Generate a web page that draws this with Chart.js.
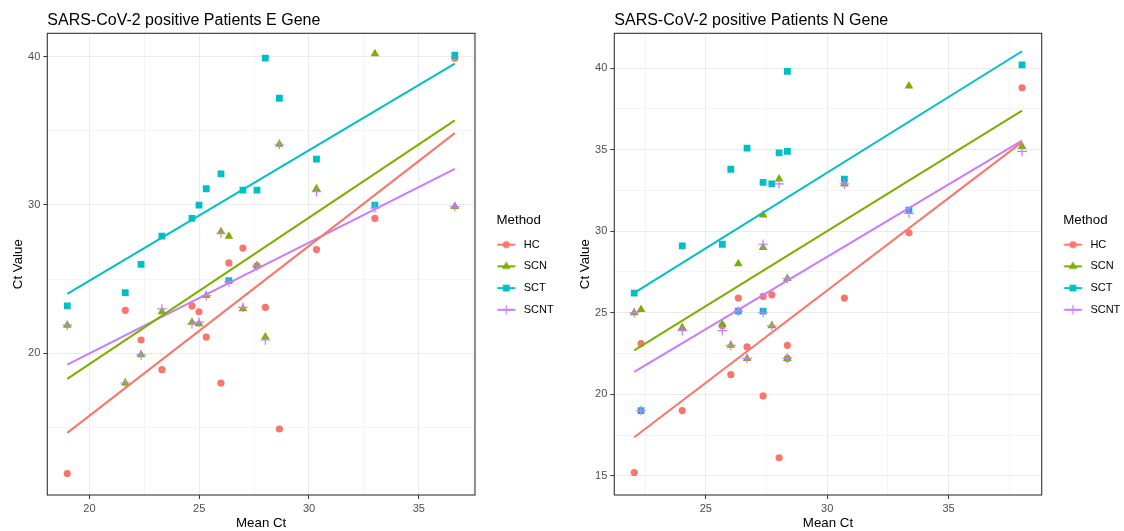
<!DOCTYPE html>
<html>
<head>
<meta charset="utf-8">
<script src="https://cdn.jsdelivr.net/npm/chart.js@4.4.1/dist/chart.umd.min.js"></script>
<style>
  html, body { margin: 0; padding: 0; background: #fff; }
  #wrap { position: relative; width: 1124px; height: 531px; }
  .panel { position: absolute; top: 0; width: 562px; height: 531px; }
</style>
</head>
<body>
<div id="wrap">
  <div class="panel" style="left:0"><canvas id="eGene" width="562" height="531"></canvas></div>
  <div class="panel" style="left:562px"><canvas id="nGene" width="562" height="531"></canvas></div>
</div>
<script>
// methods and ggplot default hues
const methods = ["HC", "SCN", "SCT", "SCNT"];
const colors = ["#F8766D", "#7CAE00", "#00BFC4", "#C77CFF"];

// E gene panel
const eMeanCt = [18.99, 21.63, 22.35, 23.30, 24.67, 24.99, 25.32, 25.99, 26.35, 26.99, 27.63, 28.01, 28.65, 30.34, 33.00, 36.64];
const eHC   = [11.9, 22.9, 20.9, 18.9, 23.2, 22.8, 21.1, 18.0, 26.1, 27.1, 25.9, 23.1, 14.9, 27.0, 29.1, 39.9];
const eSCN  = [21.9, 18.0, 19.9, 22.8, 22.1, 22.0, 23.9, 28.2, 27.9, 23.0, 25.9, 21.1, 34.1, 31.1, 40.2, 29.9];
const eSCT  = [23.2, 24.1, 26.0, 27.9, 29.1, 30.0, 31.1, 32.1, 24.9, 31.0, 31.0, 39.9, 37.2, 33.1, 30.0, 40.1];
const eSCNT = [21.9, 18.0, 19.9, 23.0, 22.0, 22.1, 23.9, 28.1, 24.8, 23.1, 25.9, 20.9, 34.1, 30.9, 29.8, 29.9];

// N gene panel
const nMeanCt = [22.05, 22.33, 24.03, 25.68, 26.03, 26.34, 26.70, 27.36, 27.36, 27.72, 28.02, 28.36, 28.36, 30.71, 33.37, 38.03];
const nHC   = [15.2, 23.1, 19.0, 24.2, 21.2, 25.9, 22.9, 26.0, 19.9, 26.1, 16.1, 23.0, 22.2, 25.9, 29.9, 38.8];
const nSCN  = [25.0, 25.2, 24.1, 24.3, 23.0, 28.0, 22.2, 31.0, 29.0, 24.2, 33.2, 27.1, 22.2, 32.9, 38.9, 35.2];
const nSCT  = [26.2, 19.0, 29.1, 29.2, 33.8, 25.1, 35.1, 33.0, 25.1, 32.9, 34.8, 39.8, 34.9, 33.2, 31.3, 40.2];
const nSCNT = [25.0, 19.0, 23.9, 23.9, 23.0, 25.1, 22.2, 29.2, 25.0, 24.2, 32.9, 27.1, 22.2, 32.9, 31.1, 34.9];

Chart.defaults.font.family = "'Liberation Sans', Arial, sans-serif";
Chart.defaults.animation = false;

const shapes = ["circle", "triangle", "rect", "cross"];
const radii = [3.6, 5.0, 4.8, 4.8];

// least squares line over the x range (like geom_smooth(method = lm))
function fitLine(xs, ys) {
  const n = xs.length;
  const mx = xs.reduce((a, b) => a + b, 0) / n;
  const my = ys.reduce((a, b) => a + b, 0) / n;
  let sxy = 0, sxx = 0;
  for (let i = 0; i < n; i++) {
    sxy += (xs[i] - mx) * (ys[i] - my);
    sxx += (xs[i] - mx) * (xs[i] - mx);
  }
  const b = sxy / sxx, a = my - b * mx;
  const x0 = Math.min(...xs), x1 = Math.max(...xs);
  return [{ x: x0, y: a + b * x0 }, { x: x1, y: a + b * x1 }];
}

// legend key: line with the marker in the middle
function keyImage(i) {
  const c = document.createElement("canvas");
  c.width = 40; c.height = 14;
  const g = c.getContext("2d");
  const cx = 13.5, cy = 7;
  g.strokeStyle = colors[i];
  g.fillStyle = colors[i];
  g.lineWidth = 2;
  g.beginPath(); g.moveTo(4.5, cy); g.lineTo(22.5, cy); g.stroke();
  g.beginPath();
  if (i === 0) {
    g.arc(cx, cy, 3.6, 0, Math.PI * 2); g.fill();
  } else if (i === 1) {
    const r = 5.0;
    g.moveTo(cx, cy - r);
    g.lineTo(cx + r * Math.sin(2.0944), cy - r * Math.cos(2.0944));
    g.lineTo(cx + r * Math.sin(4.1888), cy - r * Math.cos(4.1888));
    g.closePath(); g.fill();
  } else if (i === 2) {
    g.fillRect(cx - 3.4, cy - 3.4, 6.8, 6.8);
  } else {
    g.lineWidth = 1.2;
    g.moveTo(cx - 4.8, cy); g.lineTo(cx + 4.8, cy);
    g.moveTo(cx, cy - 4.8); g.lineTo(cx, cy + 4.8);
    g.stroke();
  }
  return c;
}
const keys = methods.map((m, i) => keyImage(i));

const panelBorder = {
  id: "panelBorder",
  afterDraw(chart) {
    const { ctx, chartArea: a } = chart;
    ctx.save();
    ctx.strokeStyle = "#333333";
    ctx.lineWidth = 1.1;
    ctx.strokeRect(a.left, a.top, a.right - a.left, a.bottom - a.top);
    ctx.restore();
  }
};

const isMult = (v, m) => Math.abs(v / m - Math.round(v / m)) < 1e-6;

function makePanel(id, p) {
  const datasets = [];
  // regression lines on top (low order = drawn last)
  p.series.forEach((ys, i) => {
    datasets.push({
      label: methods[i] + " fit",
      data: fitLine(p.x, ys),
      showLine: true,
      borderColor: colors[i],
      borderWidth: 2,
      pointRadius: 0,
      order: i
    });
  });
  p.series.forEach((ys, i) => {
    datasets.push({
      label: methods[i],
      data: p.x.map((x, k) => ({ x: x, y: ys[k] })),
      pointStyle: shapes[i],
      pointRadius: radii[i],
      pointHoverRadius: radii[i],
      backgroundColor: colors[i],
      borderColor: colors[i],
      borderWidth: i === 3 ? 1.2 : 0,
      order: 10 - i
    });
  });

  const grid = (majorStep) => ({
    color: c => isMult(c.tick.value, majorStep) ? "#ebebeb" : "#f1f1f1",
    lineWidth: c => isMult(c.tick.value, majorStep) ? 1.1 : 0.8,
    tickLength: 4,
    tickWidth: 1,
    tickColor: c => isMult(c.tick.value, majorStep) ? "#333333" : "rgba(0,0,0,0)"
  });

  new Chart(document.getElementById(id), {
    type: "scatter",
    data: { datasets },
    options: {
      responsive: false,
      layout: { padding: { left: 0, right: p.padRight, top: 0, bottom: 0 } },
      plugins: {
        title: {
          display: true,
          text: p.title,
          align: "start",
          fullSize: false,
          color: "#000",
          font: { size: 16, weight: "normal", lineHeight: 1.2 },
          padding: { top: 10.7, bottom: 3.4 }
        },
        legend: {
          display: true,
          position: "right",
          align: "center",
          maxWidth: 60,
          title: {
            display: true,
            text: "Method",
            position: "start",
            color: "#000",
            font: { size: 13.3, lineHeight: 1.1 },
            padding: { top: 8.8, bottom: 0 }
          },
          labels: {
            usePointStyle: true,
            boxWidth: 11.3,
            padding: 10.7,
            color: "#000",
            font: { size: 11 },
            generateLabels: () => methods.map((m, i) => ({
              text: m,
              pointStyle: keys[i],
              fillStyle: colors[i],
              strokeStyle: colors[i],
              lineWidth: 0,
              hidden: false,
              datasetIndex: 4 + i
            }))
          },
          onClick: () => {}
        },
        tooltip: { enabled: false }
      },
      scales: {
        x: {
          type: "linear",
          min: p.xMin, max: p.xMax,
          afterFit: s => { s.height = 36; },
          border: { display: false },
          grid: grid(5),
          ticks: {
            stepSize: 2.5, includeBounds: false, autoSkip: false, maxRotation: 0,
            padding: 3, color: "#4d4d4d", font: { size: 11 },
            callback: v => isMult(v, 5) ? v : ""
          },
          title: {
            display: true, text: "Mean Ct", color: "#000",
            font: { size: 13.3 }, padding: { top: 0, bottom: 0 }
          }
        },
        y: {
          type: "linear",
          position: "left",
          min: p.yMin, max: p.yMax,
          afterFit: s => { s.width = p.left; },
          border: { display: false },
          grid: grid(p.yMajor),
          ticks: {
            stepSize: p.yMajor / 2, includeBounds: false, autoSkip: false,
            padding: 3, color: "#4d4d4d", font: { size: 11 },
            callback: v => isMult(v, p.yMajor) ? v : ""
          },
          title: {
            display: true, text: "Ct Value", color: "#000",
            font: { size: 13.3 }, padding: { top: p.yTitlePad, bottom: 0 }
          }
        },
        gap: {
          type: "linear",
          position: "right",
          display: true,
          afterFit: s => { s.width = 21.5; },
          border: { display: false },
          grid: { display: false, drawTicks: false },
          ticks: { display: false }
        }
      }
    },
    plugins: [panelBorder]
  });
}

makePanel("eGene", {
  title: "SARS-CoV-2 positive Patients E Gene",
  x: eMeanCt,
  series: [eHC, eSCN, eSCT, eSCNT],
  xMin: 18.08, xMax: 37.56,
  yMin: 10.45, yMax: 41.58, yMajor: 10,
  left: 47.3, padRight: 5.5, yTitlePad: 10
});

makePanel("nGene", {
  title: "SARS-CoV-2 positive Patients N Gene",
  x: nMeanCt,
  series: [nHC, nSCN, nSCT, nSCNT],
  xMin: 21.23, xMax: 38.84,
  yMin: 13.82, yMax: 42.14, yMajor: 5,
  left: 52.3, padRight: 0.8, yTitlePad: 15
});
</script>
</body>
</html>
